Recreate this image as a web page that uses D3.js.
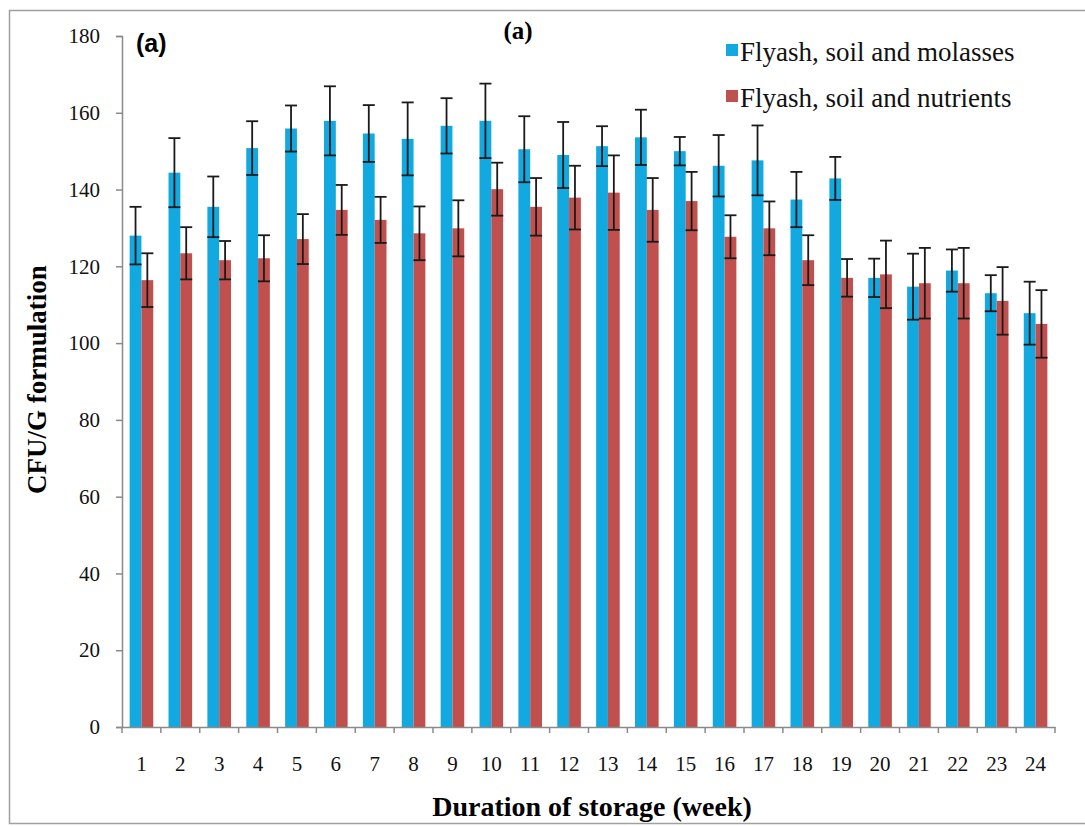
<!DOCTYPE html>
<html>
<head>
<meta charset="utf-8">
<script src="https://cdn.jsdelivr.net/npm/d3@7"></script>
<style>
  body { margin: 0; background: #fff; }
  svg { display: block; }
</style>
</head>
<body>
<div id="chart"></div>
<script>
// data
var weeks = ["1","2","3","4","5","6","7","8","9","10","11","12","13","14","15","16","17","18","19","20","21","22","23","24"];
var seriesNames = ["Flyash, soil and molasses", "Flyash, soil and nutrients"];
var molasses    = [128, 144.4, 135.5, 150.8, 155.9, 157.9, 154.6, 153.2, 156.6, 157.9, 150.5, 149, 151.3, 153.6, 150, 146.2, 147.6, 137.4, 142.9, 117, 114.7, 118.9, 113, 107.8];
var molassesErr = [7.5, 9, 7.9, 7, 6, 9, 7.4, 9.5, 7.2, 9.7, 8.6, 8.6, 5.2, 7.2, 3.7, 8, 9.1, 7.2, 5.6, 5, 8.6, 5.5, 4.7, 8.2];
var nutrients    = [116.4, 123.4, 121.6, 122.1, 127.1, 134.7, 132.1, 128.6, 129.9, 140.1, 135.5, 137.9, 139.2, 134.7, 137, 127.7, 129.9, 121.6, 117, 117.9, 115.6, 115.6, 111, 105];
var nutrientsErr = [7, 6.8, 5, 6, 6.5, 6.5, 6, 7, 7.3, 6.9, 7.5, 8.3, 9.7, 8.3, 7.6, 5.6, 7, 6.5, 4.9, 8.8, 9.2, 9.2, 8.8, 8.8];
var yTicks = [0, 20, 40, 60, 80, 100, 120, 140, 160, 180];
var colors = ["#12a9e1", "#c0504d"];

var svgWidth = 1085;
var svgHeight = 826;
var margin = { top: 36, right: 30, bottom: 99, left: 122 };
var width = 1055 - margin.left;
var height = 727 - margin.top;
var serif = "Liberation Serif, Times New Roman, serif";

var svg = d3.select("#chart")
  .append("svg")
  .attr("width", svgWidth)
  .attr("height", svgHeight);

// outer frame
svg.append("rect")
  .attr("x", 9.5).attr("y", 10.5)
  .attr("width", 1090).attr("height", 813)
  .attr("fill", "none")
  .attr("stroke", "#a0a0a0")
  .attr("stroke-width", 1.5);

var chartGroup = svg.append("g")
  .attr("transform", `translate(${margin.left}, ${margin.top})`);

var x0 = d3.scaleBand()
  .domain(weeks)
  .range([0, width]);

var barW = 11.8;

var yScale = d3.scaleLinear()
  .domain([0, 180])
  .range([height, 0]);

var table = weeks.map(function(w, i) {
  return [
    { week: w, s: 0, v: molasses[i], e: molassesErr[i] },
    { week: w, s: 1, v: nutrients[i], e: nutrientsErr[i] }
  ];
});

// bars
var groups = chartGroup.selectAll(".grp")
  .data(table)
  .enter()
  .append("g")
  .attr("class", "grp")
  .attr("transform", d => `translate(${x0(d[0].week) + x0.bandwidth() / 2}, 0)`);

groups.selectAll("rect")
  .data(d => d)
  .enter()
  .append("rect")
  .attr("x", d => d.s === 0 ? -barW : 0)
  .attr("width", barW)
  .attr("y", d => yScale(d.v))
  .attr("height", d => height - yScale(d.v))
  .attr("fill", d => colors[d.s]);

// error bars
var eb = groups.selectAll(".err")
  .data(d => d)
  .enter()
  .append("g")
  .attr("class", "err")
  .attr("transform", d => `translate(${d.s === 0 ? -barW / 2 : barW / 2}, 0)`)
  .attr("stroke", "#1a1a1a")
  .attr("stroke-width", 1.8);

eb.append("line")
  .attr("x1", 0).attr("x2", 0)
  .attr("y1", d => yScale(d.v + d.e))
  .attr("y2", d => yScale(d.v - d.e));
eb.append("line")
  .attr("x1", -6).attr("x2", 6)
  .attr("y1", d => yScale(d.v + d.e))
  .attr("y2", d => yScale(d.v + d.e));
eb.append("line")
  .attr("x1", -6).attr("x2", 6)
  .attr("y1", d => yScale(d.v - d.e))
  .attr("y2", d => yScale(d.v - d.e));

// axes
var yAxis = d3.axisLeft(yScale).tickValues(yTicks).tickSize(6).tickPadding(16);
var yG = chartGroup.append("g").call(yAxis);
yG.select(".domain").attr("stroke", "#8a8a8a").attr("stroke-width", 1.5);
yG.selectAll(".tick line").attr("stroke", "#8a8a8a").attr("stroke-width", 1.5);
yG.selectAll("text")
  .attr("font-family", serif)
  .attr("font-size", "21px")
  .attr("fill", "#111");

var xAxis = d3.axisBottom(x0).tickSize(0).tickPadding(29);
var xG = chartGroup.append("g")
  .attr("transform", `translate(0, ${height})`)
  .call(xAxis);
xG.select(".domain").attr("stroke", "#8a8a8a").attr("stroke-width", 1.5);
xG.selectAll("text")
  .attr("font-family", serif)
  .attr("font-size", "21px")
  .attr("fill", "#111");

// category boundary ticks
chartGroup.append("g")
  .selectAll("line")
  .data(weeks.concat(["end"]))
  .enter()
  .append("line")
  .attr("x1", (d, i) => i * x0.bandwidth())
  .attr("x2", (d, i) => i * x0.bandwidth())
  .attr("y1", height)
  .attr("y2", height + 6)
  .attr("stroke", "#8a8a8a")
  .attr("stroke-width", 1.5);

// axis titles
chartGroup.append("text")
  .attr("transform", "rotate(-90)")
  .attr("x", -(height / 2) + 2)
  .attr("y", -76)
  .attr("text-anchor", "middle")
  .attr("font-family", serif)
  .attr("font-weight", "bold")
  .attr("font-size", "27px")
  .text("CFU/G formulation");

svg.append("text")
  .attr("x", 592)
  .attr("y", 816)
  .attr("text-anchor", "middle")
  .attr("font-family", serif)
  .attr("font-weight", "bold")
  .attr("font-size", "28px")
  .text("Duration of storage (week)");

// panel labels
svg.append("text")
  .attr("x", 136).attr("y", 52)
  .attr("font-family", "Liberation Sans, Arial, sans-serif")
  .attr("font-weight", "bold")
  .attr("font-size", "25px")
  .text("(a)");

svg.append("text")
  .attr("x", 518).attr("y", 39)
  .attr("text-anchor", "middle")
  .attr("font-family", serif)
  .attr("font-weight", "bold")
  .attr("font-size", "25px")
  .text("(a)");

// legend
var legend = svg.append("g").attr("transform", "translate(726, 52)");
var li = legend.selectAll("g")
  .data(seriesNames)
  .enter()
  .append("g")
  .attr("transform", (d, i) => `translate(0, ${i * 46})`);
li.append("rect")
  .attr("x", 0).attr("y", -8)
  .attr("width", 12).attr("height", 12)
  .attr("fill", (d, i) => colors[i]);
li.append("text")
  .attr("x", 14).attr("y", 0)
  .attr("dy", "0.35em")
  .attr("font-family", serif)
  .attr("font-size", "27px")
  .attr("fill", "#111")
  .text(d => d);
</script>
</body>
</html>
